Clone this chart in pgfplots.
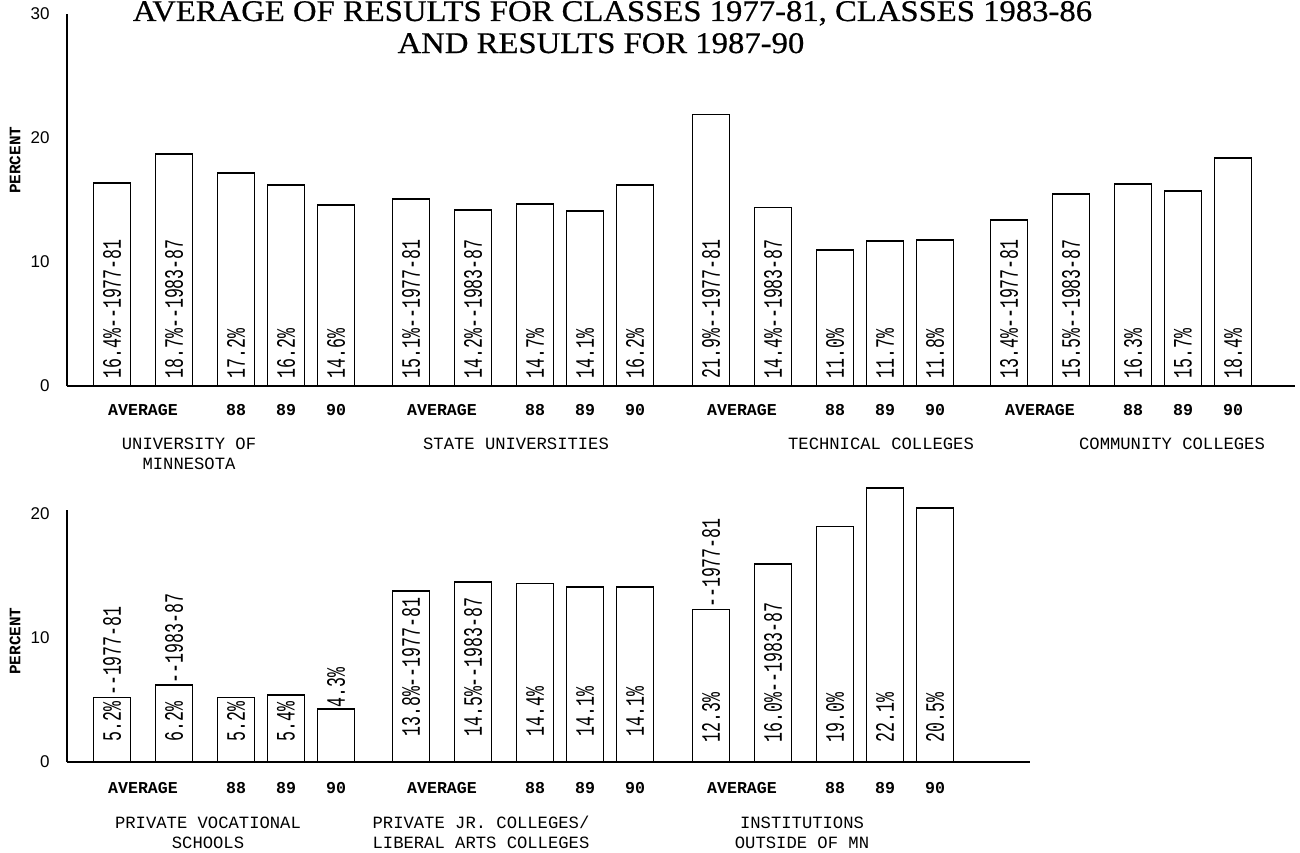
\documentclass[border=0pt]{standalone}
\usepackage{fontspec}
\setmainfont{Liberation Serif}
\setsansfont{Liberation Sans}
\setmonofont{Liberation Mono}
\newfontfamily\titlefam{Liberation Serif}[FakeStretch=1.09, FakeBold=0.6]
\usepackage{pgfplots}
\usepackage{pgfplotstable}
\pgfplotsset{compat=1.18}

\newcommand\barfont{\ttfamily\fontsize{8.3}{9}\selectfont}
\newcommand\tickfont{\ttfamily\bfseries\fontsize{8.3}{10}\selectfont}
\newcommand\grpfont{\ttfamily\fontsize{8.6}{10}\selectfont}
\newcommand\plfont{\ttfamily\bfseries\fontsize{8}{9}\selectfont}
\newcommand\titlefont{\titlefam\fontsize{15}{16}\selectfont}
\newcommand\grplab[2]{\begin{tabular}[t]{@{}c@{}}#1\\#2\end{tabular}}

% bar centres (pixel-like x units), values in percent
\pgfplotstableread{
x y
112 16.4
174 18.7
236 17.2
286 16.2
336 14.6
411 15.1
473 14.2
535 14.7
585 14.1
635 16.2
711 21.9
773 14.4
835 11.0
885 11.7
935 11.8
1009 13.4
1071 15.5
1133 16.3
1183 15.7
1233 18.4
}\topbars

\pgfplotstableread{
x y lab
112 0.56 {16.4\%--1977-81}
174 0.56 {18.7\%--1983-87}
236 0.56 {17.2\%}
286 0.56 {16.2\%}
336 0.56 {14.6\%}
411 0.56 {15.1\%--1977-81}
473 0.56 {14.2\%--1983-87}
535 0.56 {14.7\%}
585 0.56 {14.1\%}
635 0.56 {16.2\%}
711 0.56 {21.9\%--1977-81}
773 0.56 {14.4\%--1983-87}
835 0.56 {11.0\%}
885 0.56 {11.7\%}
935 0.56 {11.8\%}
1009 0.56 {13.4\%--1977-81}
1071 0.56 {15.5\%--1983-87}
1133 0.56 {16.3\%}
1183 0.56 {15.7\%}
1233 0.56 {18.4\%}
}\toplabs

\pgfplotstableread{
x y
112 5.2
174 6.2
236 5.2
286 5.4
336 4.3
411 13.8
473 14.5
535 14.4
585 14.1
635 14.1
711 12.3
773 16.0
835 19.0
885 22.1
935 20.5
}\botbars

\pgfplotstableread{
x y lab
112 1.6 {5.2\%}
112 5.3 {--1977-81}
174 1.6 {6.2\%}
174 6.3 {--1983-87}
236 1.6 {5.2\%}
286 1.6 {5.4\%}
336 4.4 {4.3\%}
411 2.0 {13.8\%--1977-81}
473 2.0 {14.5\%--1983-87}
535 2.0 {14.4\%}
585 2.0 {14.1\%}
635 2.0 {14.1\%}
711 1.55 {12.3\%}
711 12.4 {--1977-81}
773 1.55 {16.0\%--1983-87}
835 1.55 {19.0\%}
885 1.55 {22.1\%}
935 1.55 {20.5\%}
}\botlabs

\pgfplotsset{
  panel/.style={
    x=0.5pt, y=6.2pt,
    axis x line=bottom, axis y line=left,
    axis line style={-, line width=1.3pt},
    xmin=67, ymin=0,
    clip=false,
    major tick length=0pt,
    /pgf/number format/assume math mode=true,
    xticklabel style={font=\tickfont, anchor=base, inner sep=0pt},
    yticklabel style={font=\sffamily\fontsize{8.5}{10}\selectfont, anchor=east, inner sep=0pt, xshift=-8.5pt},
    ylabel={PERCENT},
  },
  bars/.style={ybar, bar width=18.5pt, bar shift=0pt, fill=white, draw=black, line width=0.9pt},
  labs/.style={draw=none, nodes near coords, point meta=explicit symbolic,
    nodes near coords align=horizontal,
    every node near coord/.append style={anchor=west, rotate=90, yscale=1.6, inner sep=0pt, font=\barfont, text=black}},
}
\tikzset{grp/.style={anchor=base, inner sep=0pt, font=\grpfont}}

\begin{document}
\begin{tikzpicture}
\begin{axis}[panel, at={(0,0)}, anchor=south west,
  xmax=1295, ymax=30, ytick={0,10,20,30},
  xtick={143,236,286,336,442,535,585,635,742,835,885,935,1040,1133,1183,1233},
  xticklabels={AVERAGE,88,89,90,AVERAGE,88,89,90,AVERAGE,88,89,90,AVERAGE,88,89,90},
  xticklabel style={yshift=-14.75pt},
  every axis y label/.style={at={(axis description cs:0,0.607)}, xshift=-26pt, rotate=90, anchor=center, font=\plfont},
]
\addplot[bars] table[x=x,y=y] {\topbars};
\addplot[labs] table[x=x,y=y,meta=lab] {\toplabs};
\node[grp, yshift=-31.5pt] at (axis cs:189,0) {\grplab{UNIVERSITY OF}{MINNESOTA}};
\node[grp, yshift=-31.5pt] at (axis cs:516,0) {\grplab{STATE UNIVERSITIES}{}};
\node[grp, yshift=-31.5pt] at (axis cs:881,0) {\grplab{TECHNICAL COLLEGES}{}};
\node[grp, yshift=-31.5pt] at (axis cs:1172,0) {\grplab{COMMUNITY COLLEGES}{}};
\end{axis}

\begin{axis}[panel, at={(0,-188pt)}, anchor=south west,
  xmax=1030, ymax=20.3, ytick={0,10,20},
  xtick={143,236,286,336,442,535,585,635,742,835,885,935},
  xticklabels={AVERAGE,88,89,90,AVERAGE,88,89,90,AVERAGE,88,89,90},
  xticklabel style={yshift=-15.75pt},
  every axis y label/.style={at={(axis description cs:0,0.48)}, xshift=-26pt, rotate=90, anchor=center, font=\plfont},
]
\addplot[bars] table[x=x,y=y] {\botbars};
\addplot[labs] table[x=x,y=y,meta=lab] {\botlabs};
\node[grp, yshift=-33.25pt] at (axis cs:208,0) {\grplab{PRIVATE VOCATIONAL}{SCHOOLS}};
\node[grp, yshift=-33.25pt] at (axis cs:481,0) {\grplab{PRIVATE JR. COLLEGES/}{LIBERAL ARTS COLLEGES}};
\node[grp, yshift=-33.25pt] at (axis cs:802,0) {\grplab{INSTITUTIONS}{OUTSIDE OF MN}};
\end{axis}

\node[anchor=base, font=\titlefont] at (272.75pt,182.5pt) {AVERAGE OF RESULTS FOR CLASSES 1977-81, CLASSES 1983-86};
\node[anchor=base, font=\titlefont] at (267pt,166.5pt) {AND RESULTS FOR 1987-90};

\pgfresetboundingbox
\useasboundingbox (-33.5pt,-233pt) rectangle (616.5pt,193pt);
\end{tikzpicture}
\end{document}
